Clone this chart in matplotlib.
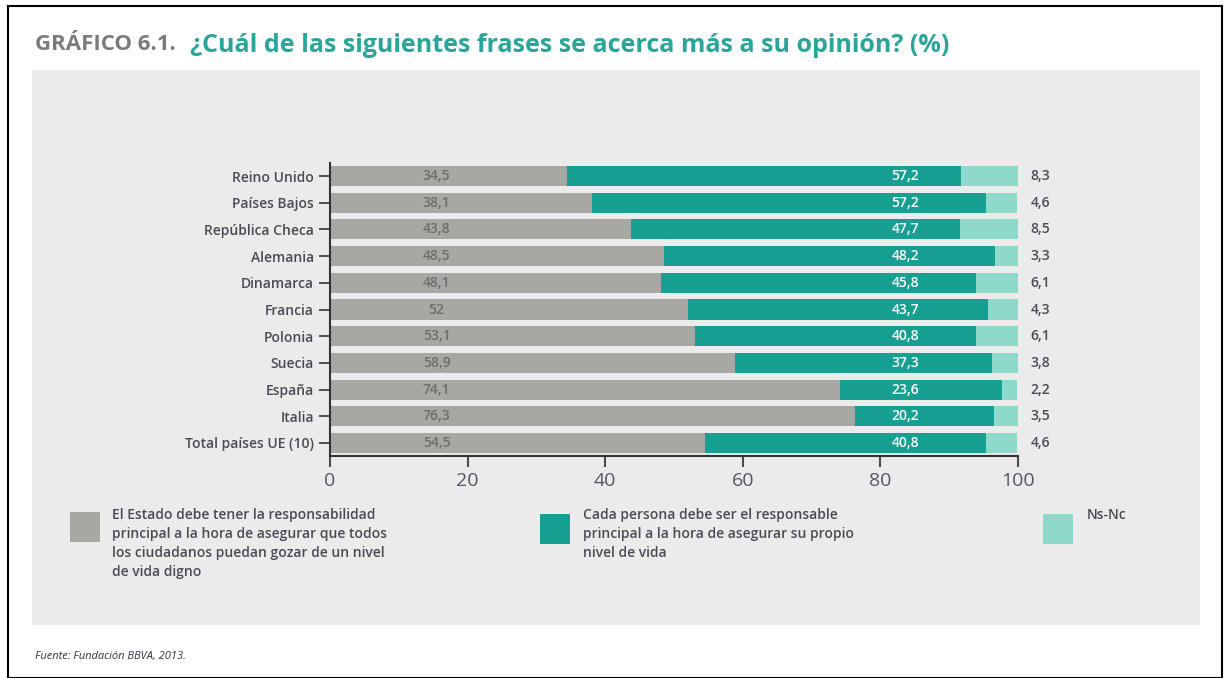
import numpy as np
import matplotlib.pyplot as plt
from matplotlib.patches import Rectangle

plt.rcParams['font.family'] = ['Open Sans', 'DejaVu Sans']

paises = ['Reino Unido', 'Países Bajos', 'República Checa', 'Alemania', 'Dinamarca',
          'Francia', 'Polonia', 'Suecia', 'España', 'Italia', 'Total países UE (10)']
estado = [34.5, 38.1, 43.8, 48.5, 48.1, 52, 53.1, 58.9, 74.1, 76.3, 54.5]
persona = [57.2, 57.2, 47.7, 48.2, 45.8, 43.7, 40.8, 37.3, 23.6, 20.2, 40.8]
nsnc = [8.3, 4.6, 8.5, 3.3, 6.1, 4.3, 6.1, 3.8, 2.2, 3.5, 4.6]

leyenda = ['El Estado debe tener la responsabilidad\nprincipal a la hora de asegurar que todos\nlos ciudadanos puedan gozar de un nivel\nde vida digno',
           'Cada persona debe ser el responsable\nprincipal a la hora de asegurar su propio\nnivel de vida',
           'Ns-Nc']

c_gris = '#a9a7a4'
c_teal = '#17a091'
c_claro = '#8ed9ca'
c_texto = '#4a4a55'

def fmt(v):
    s = ('%g' % v).replace('.', ',')
    return s

fig = plt.figure(figsize=(12.3, 6.78), dpi=100)
W, H = 1230, 678

# marco y panel gris
fig.patches.append(Rectangle((8 / W, 0), (1222 - 8) / W, 1 - 6 / H, transform=fig.transFigure,
                             fill=False, edgecolor='black', linewidth=1.5, zorder=5))
fig.patches.append(Rectangle((32 / W, 1 - 625 / H), (1200 - 32) / W, (625 - 70) / H,
                             transform=fig.transFigure, facecolor='#ebebeb', edgecolor='none',
                             zorder=-1))

ax = fig.add_axes([330 / W, 1 - 456 / H, (1018 - 330) / W, (456 - 163) / H])
ax.set_facecolor('none')
ax.set_zorder(2)

y = np.arange(len(paises))[::-1]
e = np.array(estado)
p = np.array(persona)
n = np.array(nsnc)
h = 0.75
ax.barh(y, e, height=h, color=c_gris)
ax.barh(y, p, left=e, height=h, color=c_teal)
ax.barh(y, n, left=e + p, height=h, color=c_claro)

for yi, a, b, c in zip(y, estado, persona, nsnc):
    ax.text(15.5, yi, fmt(a), ha='center', va='center', fontsize=10, color='#6f6d6b',
            fontweight='semibold')
    ax.text(83.6, yi, fmt(b), ha='center', va='center', fontsize=10, color='white',
            fontweight='semibold')
    ax.text(101.8, yi, fmt(c), ha='left', va='center', fontsize=10, color=c_texto,
            fontweight='semibold')

ax.set_xlim(0, 100)
ax.set_ylim(-0.49, 10.49)
ax.set_yticks(y)
ax.set_yticklabels(paises, fontsize=10, color=c_texto, fontweight='semibold')
ax.set_xticks([0, 20, 40, 60, 80, 100])
ax.tick_params(axis='x', labelsize=14, colors=c_texto, length=8, width=1.5)
ax.tick_params(axis='y', length=8, width=1.2, color='#333333')
ax.spines['top'].set_visible(False)
ax.spines['right'].set_visible(False)
ax.spines['left'].set_linewidth(1.5)
ax.spines['bottom'].set_linewidth(1.5)
ax.spines['left'].set_color('#333333')
ax.spines['bottom'].set_color('#333333')
for lab in ax.get_xticklabels():
    lab.set_color('#555566')

# leyenda manual
items = [(c_gris, 70, 512, 112), (c_teal, 540, 514, 583), (c_claro, 1043, 514, 1087)]
for (col, x0, y0, xt), txt in zip(items, leyenda):
    fig.patches.append(Rectangle((x0 / W, 1 - (y0 + 30) / H), 30 / W, 30 / H,
                                 transform=fig.transFigure, facecolor=col, edgecolor='none'))
    fig.text(xt / W, 1 - 508 / H, txt, ha='left', va='top', fontsize=10,
             color=c_texto, linespacing=1.45, fontweight='semibold')

# titulo
fig.text(35 / W, 1 - 45 / H, 'GRÁFICO 6.1.', ha='left', va='center', fontsize=16,
         fontweight='bold', color='#7b7b7b')
fig.text(190 / W, 1 - 45 / H, '¿Cuál de las siguientes frases se acerca más a su opinión? (%)',
         ha='left', va='center', fontsize=18, fontweight='bold', color='#2aa59a')

fig.text(35 / W, 1 - 657 / H, 'Fuente: Fundación BBVA, 2013.', ha='left', va='center',
         fontsize=8, color='#333344', style='italic')

fig.savefig('out.png', dpi=100)
